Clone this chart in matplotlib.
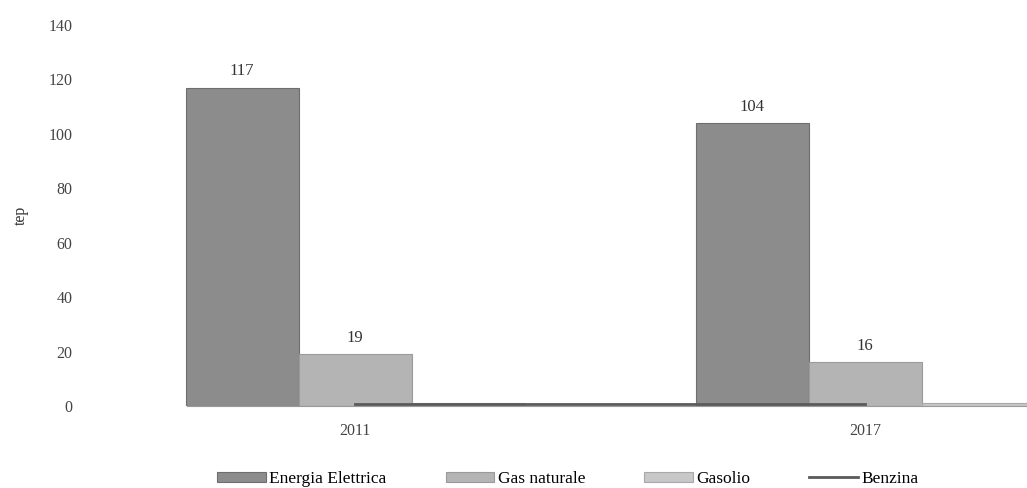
import matplotlib.pyplot as plt
import numpy as np

# Data
years = ['2011', '2017']
energia = [117, 104]
gas = [19, 16]
gasolio = [1.0, 1.0]
benzina = [0.6, 0.6]
ymax = 140

plt.rcParams['font.family'] = ['Liberation Serif', 'DejaVu Serif']

fig = plt.figure(figsize=(10.27, 4.88), dpi=100)
ax = fig.add_axes([0.0974, 0.168, 0.9026, 0.781])

x = np.arange(len(years))
w = 0.2216

b1 = ax.bar(x - w, energia, w, color='#8c8c8c', edgecolor='#6e6e6e', linewidth=0.8, label='Energia Elettrica')
b2 = ax.bar(x, gas, w, color='#b4b4b4', edgecolor='#9a9a9a', linewidth=0.8, label='Gas naturale')
b3 = ax.bar(x + w, gasolio, w, color='#c8c8c8', edgecolor='#a8a8a8', linewidth=0.8, label='Gasolio')
ln, = ax.plot(x, benzina, color='#5a5a5a', linewidth=2, label='Benzina')

# value labels
for bars in (b1, b2):
    for rect in bars:
        h = rect.get_height()
        ax.text(rect.get_x() + rect.get_width() / 2, h + 3, f'{h:.0f}',
                ha='center', va='bottom', fontsize=12, color='#333333')

ax.set_ylim(0, ymax)
ax.set_yticks(range(0, ymax + 1, 20))
ax.set_xlim(-0.5, 1.3176)
ax.set_xticks(x)
ax.set_xticklabels(years)
ax.tick_params(axis='both', length=0, labelsize=11.5, colors='#444444')
ax.tick_params(axis='x', pad=12)
ax.tick_params(axis='y', pad=20)
for s in ('top', 'right', 'left'):
    ax.spines[s].set_visible(False)
ax.spines['bottom'].set_color('#9a9a9a')
ax.spines['bottom'].set_bounds(-0.33, 1.32)
ax.set_ylabel('tep', fontsize=11.5, color='#333333', labelpad=14)

fig.legend([b1, b2, b3, ln], ['Energia Elettrica', 'Gas naturale', 'Gasolio', 'Benzina'],
           loc='lower center', bbox_to_anchor=(0.553, -0.03), ncol=4, frameon=False,
           fontsize=12.5, handlelength=2.8, handleheight=0.5, columnspacing=3.4, handletextpad=0.2)

fig.savefig('out.png', dpi=100)
